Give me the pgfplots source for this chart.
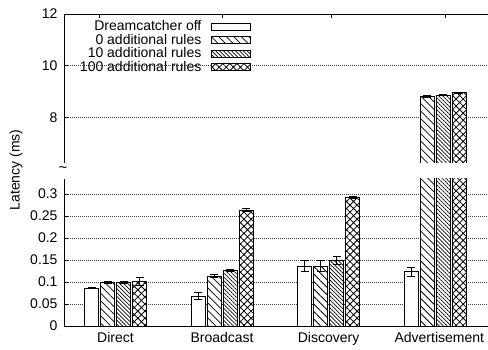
\documentclass[border=0pt]{standalone}
\usepackage{fontspec}
\setmainfont{Liberation Sans}
\usepackage{pgfplots}
\usepackage{pgfplotstable}
\pgfplotsset{compat=1.18}
\usetikzlibrary{patterns.meta}

\pgfplotstableread{
x y e
0 0.086 0.0012
1 0.068 0.008
2 0.136 0.0125
3 0.1235 0.010
}\off
\pgfplotstableread{
x y e
0 0.099 0.002
1 0.1136 0.004
2 0.136 0.0125
3 8.81 0.025
}\zero
\pgfplotstableread{
x y e
0 0.099 0.002
1 0.1258 0.002
2 0.150 0.009
3 8.86 0.025
}\ten
\pgfplotstableread{
x y e
0 0.1007 0.009
1 0.2636 0.003
2 0.2924 0.002
3 8.95 0.025
}\hund

\pgfplotsset{
  common/.style={
    scale only axis, width=426pt,
    xmin=-0.4836, xmax=3.516,
    ybar, bar width=14pt,
    axis line style={line width=0.9pt, black},
    tick style={black, line width=0.8pt},
    major tick length=4pt, tick align=inside,
    ymajorgrids,
    grid style={black!75, line width=0.6pt, dash pattern=on 0.8pt off 1.2pt},
    tick label style={font=\fontsize{14}{16}\selectfont},
    /pgf/number format/assume math mode=true,
    yticklabel style={xshift=-3pt},
    every axis plot/.append style={draw=black, line width=0.9pt},
    error bars/y dir=both, error bars/y explicit,
    error bars/error bar style={line width=0.8pt, black, solid},
    error bars/error mark options={rotate=90, mark size=4pt, line width=0.8pt, black},
  },
  s0/.style={fill=white, bar shift=-24pt},
  s1/.style={fill=white, bar shift=-8pt, postaction={pattern={Lines[angle=-45,distance=5.3pt,line width=0.8pt]}}},
  s2/.style={fill=white, bar shift=8pt, postaction={pattern={Lines[angle=-45,distance=2.8pt,line width=0.7pt]}}},
  s3/.style={fill=white, bar shift=24pt, postaction={pattern={Hatch[angle=45,distance=5pt,line width=0.8pt]}}},
}

\begin{document}
\begin{tikzpicture}
\useasboundingbox (0,0) rectangle (488pt,350pt);
% lower part
\begin{axis}[common,
  at={(64pt,24pt)}, anchor=south west, height=147pt,
  ymin=0, ymax=0.334,
  axis x line*=bottom, axis y line*=left,
  ytick={0,0.05,0.1,0.15,0.2,0.25,0.3},
  yticklabels={0,0.05,0.1,0.15,0.2,0.25,0.3},
  xtick={0,1,2,3.04},
  xticklabels={Direct,Broadcast,Discovery,Advertisement},
  xtick style={draw=none},
  xticklabel style={yshift=-3pt},
]
\addplot[s0] table[x=x,y=y,y error=e]{\off};
\addplot[s1] table[x=x,y=y,y error=e]{\zero};
\addplot[s2] table[x=x,y=y,y error=e]{\ten};
\addplot[s3] table[x=x,y=y,y error=e]{\hund};
\end{axis}
% upper part
\begin{axis}[common,
  at={(64pt,187pt)}, anchor=south west, height=149pt,
  ymin=6.23, ymax=12,
  axis x line*=top, axis y line*=left,
  ytick={8,10,12}, yticklabels={8,10,12},
  xtick={-0.155,1.0,2.023,3.094}, xticklabels={},
  legend plot pos=right,
  legend cell align=right,
  legend image code/.code={\draw[#1] (0pt,-3.5pt) rectangle (39pt,3.5pt);},
  legend style={draw=none, fill=none, at={(0.446,0.975)}, anchor=north east,
    font=\fontsize{14}{14}\selectfont, row sep=0pt,
    /tikz/every odd column/.append style={column sep=8pt},
    nodes={inner sep=1.5pt, text height=9.5pt, text depth=1pt}},
]
\addlegendimage{s0}
\addplot[s1, restrict y to domain=5:20] table[x=x,y=y,y error=e]{\zero};
\addplot[s2, restrict y to domain=5:20] table[x=x,y=y,y error=e]{\ten};
\addplot[s3, restrict y to domain=5:20] table[x=x,y=y,y error=e]{\hund};
\legend{Dreamcatcher off,0 additional rules,10 additional rules,100 additional rules}
\end{axis}
\node[rotate=90, font=\fontsize{14}{16}\selectfont] at (16pt,180pt) {Latency (ms)};
\node[inner sep=0pt, font=\fontsize{15}{16}\selectfont] at (63pt,180pt) {\char"007E};
\end{tikzpicture}
\end{document}
